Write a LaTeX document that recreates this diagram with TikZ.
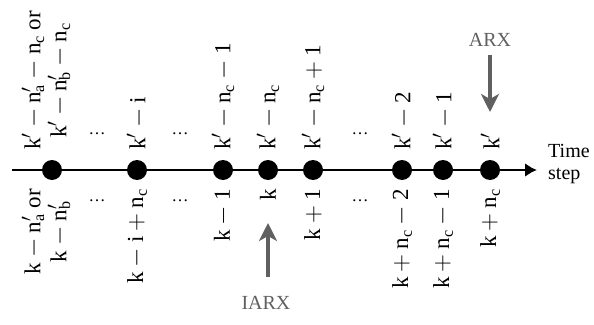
\documentclass[tikz,border=0pt]{standalone}
\usepackage{fontspec}
\setmainfont{Liberation Serif}
\usetikzlibrary{arrows.meta}
\definecolor{marker}{HTML}{606060}
% upright symbols used in the tick labels
\newcommand{\pr}{$'$}
\newcommand{\mi}{\hspace{0.22em}$-$\hspace{0.22em}}
\newcommand{\pl}{\hspace{0.22em}$+$\hspace{0.22em}}
\newcommand{\sbs}[1]{\textsubscript{#1}}
\newcommand{\npr}[1]{n\rlap{\pr}\sbs{#1}}
\begin{document}
\begin{tikzpicture}[x=1pt,y=-1pt,
  every node/.style={font=\fontsize{20}{22}\selectfont, inner sep=0pt},
  tick/.style={circle, fill=black, minimum size=20pt},
  lbl/.style={rotate=90, align=center, font=\fontsize{23}{26}\selectfont},
  above label/.style={lbl, anchor=west},
  below label/.style={lbl, anchor=east},
  gap/.style={font=\fontsize{17}{18}\selectfont},
  pointer/.style={draw=marker, line width=3.5pt, -{Stealth[length=18pt,width=18pt,inset=5pt]}},
  tag/.style={text=marker}]
\useasboundingbox (0,0) rectangle (594,324);

% time axis
\coordinate (start) at (12,170);
\coordinate (end) at (537,170);
\draw[line width=2.6pt, -{Latex[length=12pt,width=14pt]}] (start) -- (end);
\node[anchor=west, align=left] (time) at (548,164) {Time\\step};

% tick marks along the axis
\foreach \n/\x in {a/52, b/137, c/223, d/268, e/313, f/402, g/443, h/490}
  \node[tick] (\n) at (\x,170) {};

% labels above the axis
\node[above label] (ta) at (46,150) {k\pr\mi\npr{a}\mi n\sbs{c} or\\k\pr\mi\npr{b}\mi n\sbs{c}};
\node[above label] (tb) at (137,150) {k\pr\mi i};
\node[above label] (tc) at (223,150) {k\pr\mi n\sbs{c}\mi 1};
\node[above label] (td) at (268,150) {k\pr\mi n\sbs{c}};
\node[above label] (te) at (313,150) {k\pr\mi n\sbs{c}\pl 1};
\node[above label] (tf) at (402,150) {k\pr\mi 2};
\node[above label] (tg) at (443,150) {k\pr\mi 1};
\node[above label] (th) at (490,150) {k\pr};
\node[gap] (u1) at (97,134) {\dots};
\node[gap] (u2) at (180,134) {\dots};
\node[gap] (u3) at (360,134) {\dots};

% labels below the axis
\node[below label] (ba) at (46,189) {k\mi\npr{a} or\\k\mi\npr{b}};
\node[below label] (bb) at (137,189) {k\mi i\pl n\sbs{c}};
\node[below label] (bc) at (223,189) {k\mi 1};
\node[below label] (bd) at (268,189) {k};
\node[below label] (be) at (313,189) {k\pl 1};
\node[below label] (bf) at (402,189) {k\pl n\sbs{c}\mi 2};
\node[below label] (bg) at (443,189) {k\pl n\sbs{c}\mi 1};
\node[below label] (bh) at (490,189) {k\pl n\sbs{c}};
\node[gap] (l1) at (97,201) {\dots};
\node[gap] (l2) at (180,201) {\dots};
\node[gap] (l3) at (360,201) {\dots};

% model markers
\node[tag] (arx) at (490,40) {ARX};
\coordinate (arxtip) at (490,112);
\draw[pointer] (arx.south) ++(0,8) -- (arxtip);
\node[tag] (iarx) at (266,303) {IARX};
\coordinate (iarxtip) at (268,223);
\draw[pointer] (268,277) -- (iarxtip);
\end{tikzpicture}
\end{document}
